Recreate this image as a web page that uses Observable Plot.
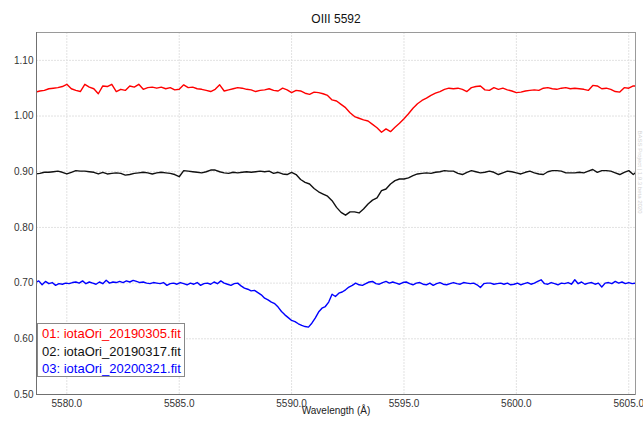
<!DOCTYPE html>
<html>
<head>
<meta charset="utf-8">
<script src="https://cdn.jsdelivr.net/npm/d3@7"></script>
<script src="https://cdn.jsdelivr.net/npm/@observablehq/plot@0.6"></script>
<style>
  html, body { margin: 0; padding: 0; background: #fff; }
  #wrap { position: relative; width: 643px; height: 421px; font-family: "Liberation Sans", Arial, sans-serif; }
  #legend { position: absolute; left: 37px; top: 323px; width: 142px; height: 51px; border: 1px solid #888; background: #fff; font-size: 13px; line-height: 17.5px; padding: 1px 0 0 4px; box-sizing: content-box; white-space: nowrap; }
</style>
</head>
<body>
<div id="wrap"></div>
<script>
// ---- data ----
const title = "OIII 5592";
const xLabel = "Wavelength (Å)";
const seriesNames = ["01: iotaOri_20190305.fit", "02: iotaOri_20190317.fit", "03: iotaOri_20200321.fit"];
const seriesColors = ["#ff0000", "#111111", "#0000ff"];
const xTicks = [5580, 5585, 5590, 5595, 5600, 5605];
const yTicks = [0.5, 0.6, 0.7, 0.8, 0.9, 1.0, 1.1];
const xDomain = [5578.65, 5605.3];
const yDomain = [0.5, 1.15];

// wavelength sampling of each spectrum (start, step in Å)
const redStart = 5578.6, redStep = 0.2;
const blackStart = 5578.6, blackStep = 0.2;
const blueStart = 5578.6, blueStep = 0.15;

const redFlux = [
1.043,1.045,1.046,1.049,1.050,1.051,1.053,1.057,1.049,1.046,
1.044,1.057,1.052,1.049,1.040,1.054,1.053,1.057,1.044,1.048,
1.046,1.054,1.052,1.057,1.048,1.051,1.052,1.050,1.052,1.049,
1.051,1.047,1.048,1.056,1.051,1.052,1.049,1.048,1.046,1.044,
1.048,1.056,1.045,1.047,1.049,1.051,1.050,1.048,1.047,1.044,
1.046,1.047,1.049,1.046,1.045,1.050,1.047,1.042,1.046,1.045,
1.041,1.039,1.043,1.042,1.040,1.037,1.029,1.027,1.021,1.015,
1.006,0.999,0.996,0.993,0.991,0.985,0.979,0.971,0.977,0.972,
0.980,0.987,0.995,1.004,1.014,1.022,1.028,1.032,1.037,1.041,
1.044,1.048,1.050,1.049,1.050,1.048,1.044,1.051,1.053,1.054,
1.047,1.046,1.051,1.048,1.050,1.047,1.045,1.042,1.043,1.045,
1.046,1.047,1.046,1.050,1.051,1.049,1.048,1.050,1.051,1.049,
1.050,1.049,1.048,1.046,1.055,1.054,1.049,1.050,1.048,1.044,
1.043,1.051,1.050,1.054,1.054
];

const blackFlux = [
0.896,0.897,0.899,0.899,0.900,0.901,0.899,0.896,0.899,0.902,
0.901,0.901,0.900,0.899,0.896,0.899,0.896,0.897,0.898,0.897,
0.894,0.895,0.897,0.898,0.899,0.898,0.896,0.898,0.899,0.898,
0.897,0.895,0.891,0.902,0.901,0.900,0.899,0.898,0.900,0.903,
0.903,0.900,0.898,0.897,0.899,0.898,0.899,0.900,0.899,0.900,
0.901,0.900,0.901,0.897,0.899,0.896,0.895,0.899,0.895,0.886,
0.881,0.878,0.870,0.864,0.860,0.856,0.848,0.836,0.827,0.822,
0.828,0.828,0.826,0.833,0.842,0.849,0.853,0.866,0.869,0.878,
0.884,0.887,0.887,0.889,0.893,0.896,0.897,0.898,0.897,0.899,
0.900,0.902,0.901,0.901,0.897,0.895,0.899,0.902,0.900,0.898,
0.899,0.901,0.899,0.895,0.898,0.901,0.900,0.898,0.896,0.899,
0.901,0.898,0.896,0.895,0.900,0.902,0.902,0.901,0.898,0.898,
0.898,0.899,0.898,0.901,0.904,0.899,0.902,0.902,0.901,0.898,
0.895,0.899,0.902,0.895,0.901
];

const blueFlux = [
0.701,0.704,0.697,0.703,0.699,0.701,0.696,0.699,0.698,0.700,
0.699,0.701,0.702,0.700,0.704,0.699,0.702,0.700,0.698,0.702,
0.699,0.705,0.700,0.702,0.701,0.703,0.701,0.704,0.702,0.705,
0.703,0.701,0.702,0.700,0.699,0.701,0.700,0.699,0.701,0.696,
0.699,0.700,0.698,0.701,0.699,0.697,0.700,0.698,0.701,0.696,
0.699,0.700,0.698,0.702,0.699,0.704,0.700,0.698,0.696,0.699,
0.700,0.695,0.691,0.689,0.686,0.687,0.683,0.679,0.673,0.670,
0.666,0.663,0.657,0.649,0.643,0.638,0.633,0.631,0.627,0.624,
0.622,0.621,0.628,0.637,0.648,0.655,0.658,0.666,0.680,0.676,
0.682,0.684,0.688,0.693,0.696,0.700,0.697,0.696,0.699,0.702,
0.703,0.699,0.698,0.701,0.703,0.700,0.702,0.700,0.698,0.701,
0.702,0.699,0.697,0.700,0.701,0.698,0.697,0.700,0.696,0.699,
0.701,0.698,0.697,0.699,0.701,0.699,0.698,0.701,0.700,0.699,
0.700,0.697,0.692,0.699,0.700,0.700,0.698,0.699,0.700,0.698,
0.700,0.697,0.698,0.700,0.697,0.699,0.701,0.698,0.700,0.703,
0.706,0.699,0.698,0.701,0.699,0.697,0.700,0.699,0.701,0.698,
0.706,0.699,0.702,0.698,0.700,0.701,0.698,0.700,0.693,0.700,
0.701,0.699,0.703,0.700,0.702,0.699,0.701,0.699,0.700,0.698
];

const watermark = "BASS Project | 1.9.3 beta 2020";

// ---- build table ----
function toRows(flux, start, step, s) {
  return flux.map((f, i) => ({ w: start + i * step, f, s }));
}
const rows = [
  ...toRows(redFlux, redStart, redStep, seriesNames[0]),
  ...toRows(blackFlux, blackStart, blackStep, seriesNames[1]),
  ...toRows(blueFlux, blueStart, blueStep, seriesNames[2])
];

const font = '"Liberation Sans", Arial, sans-serif';

const chart = Plot.plot({
  width: 643,
  height: 421,
  marginTop: 32,
  marginBottom: 27,
  marginLeft: 36,
  marginRight: 8,
  style: { fontFamily: font, fontSize: "10px", color: "#333", background: "#fff" },
  x: { domain: xDomain },
  y: { domain: yDomain },
  color: { domain: seriesNames, range: seriesColors },
  marks: [
    Plot.gridX(xTicks, { stroke: "#e2e2e2", strokeOpacity: 1, strokeDasharray: "2,1" }),
    Plot.gridY(yTicks, { stroke: "#e2e2e2", strokeOpacity: 1, strokeDasharray: "2,1" }),
    Plot.line(rows, { x: "w", y: "f", z: "s", stroke: "s", strokeWidth: 1.4, clip: true }),
    Plot.frame({ stroke: "#9a9a9a" }),
    Plot.ruleX([xDomain[0]], { stroke: "#707070" }),
    Plot.ruleY([yDomain[0]], { stroke: "#707070" }),
    Plot.axisX(xTicks, { tickSize: 0, tickPadding: 5, tickFormat: d => d.toFixed(1), label: null, fontSize: 10 }),
    Plot.axisY(yTicks, { tickSize: 0, tickPadding: 3, tickFormat: d => d.toFixed(2), label: null, fontSize: 10 }),
    Plot.text([xLabel], { frameAnchor: "bottom", dy: 19, fontSize: 10, fill: "#222" }),
    Plot.text([title], { frameAnchor: "top", dy: -18, fontSize: 12, fill: "#111" }),
    Plot.text([watermark], { frameAnchor: "right", dx: 4, rotate: 90, fontSize: 6, fill: "#d4d4d4" })
  ]
});

const wrap = document.getElementById("wrap");
wrap.appendChild(chart);

const legend = document.createElement("div");
legend.id = "legend";
seriesNames.forEach((name, i) => {
  const d = document.createElement("div");
  d.textContent = name;
  d.style.color = seriesColors[i];
  legend.appendChild(d);
});
wrap.appendChild(legend);
</script>
</body>
</html>
